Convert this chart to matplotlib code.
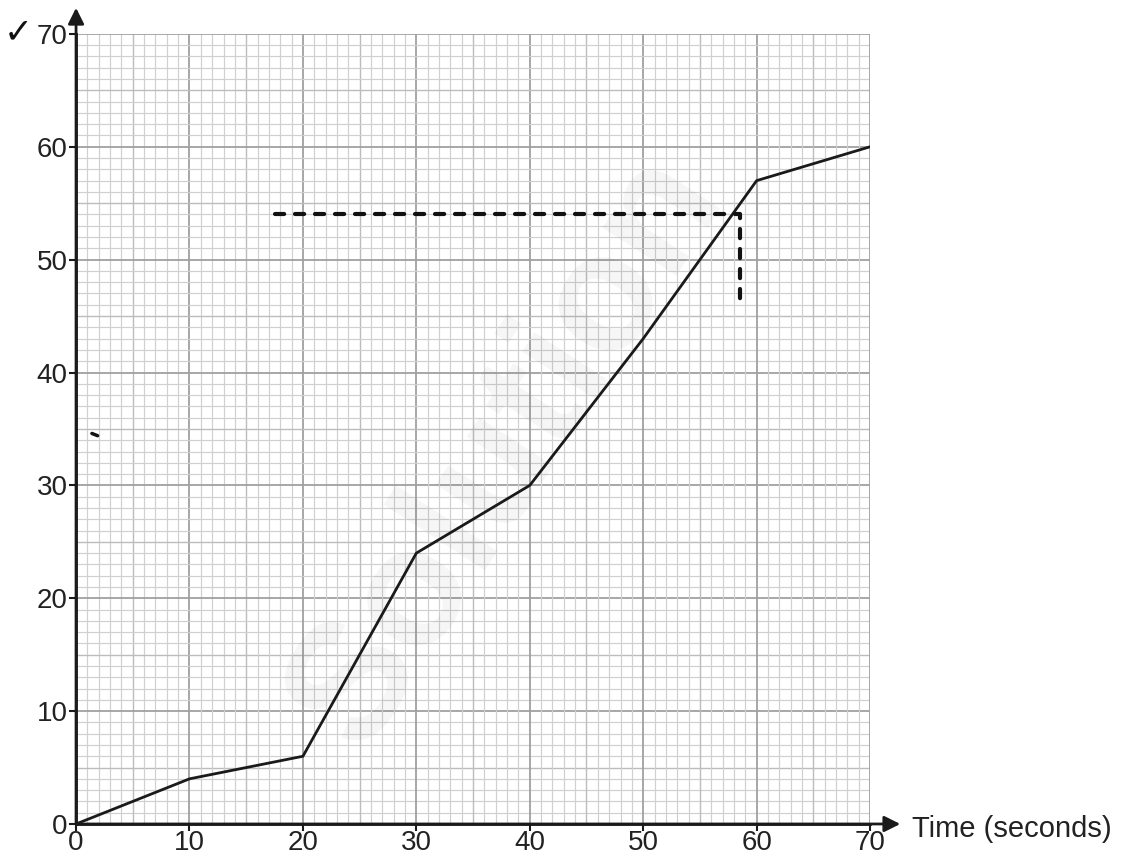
import numpy as np
from matplotlib import pyplot as plt

# Данные графика
time = [0, 10, 20, 30, 40, 50, 60, 70]
values = [0, 4, 6, 24, 30, 43, 57, 60]
ticks = [0, 10, 20, 30, 40, 50, 60, 70]

# Рукописная пунктирная линия (чтение значения)
readX = [17.5, 58.5, 58.5]
readY = [54, 54, 46.5]
# Случайная пометка карандашом
strayX = [1.4, 1.9]
strayY = [34.6, 34.4]

plt.rcParams['font.family'] = ['Liberation Sans', 'DejaVu Sans']

fig = plt.figure(figsize=(11.25, 8.56), dpi=100)
ax = fig.add_axes([0.0676, 0.0374, 0.7058, 0.923])
ax.set_xlim(0, 70)
ax.set_ylim(0, 70)

# Миллиметровка
for v in range(0, 71):
    if v % 10 == 0:
        c, lw = '#a0a0a0', 1.3
    elif v % 5 == 0:
        c, lw = '#bcbcbc', 1.0
    else:
        c, lw = '#d0d0d0', 0.85
    ax.axvline(v, color=c, lw=lw, zorder=0)
    ax.axhline(v, color=c, lw=lw, zorder=0)

ax.plot(time, values, color='#1a1a1a', lw=2, zorder=3)
ax.plot(readX, readY, color='#111111', lw=3, linestyle=(0, (2.2, 2.6)),
        dash_capstyle='round', zorder=4)
ax.plot(strayX, strayY, color='#111111', lw=2.5, solid_capstyle='round', zorder=4)

for s in ['top', 'right']:
    ax.spines[s].set_visible(False)
for s in ['left', 'bottom']:
    ax.spines[s].set_linewidth(2)
    ax.spines[s].set_color('#1a1a1a')

ax.set_xticks(ticks)
ax.set_yticks(ticks)
ax.tick_params(labelsize=20, length=5, width=1.5, color='#1a1a1a',
               labelcolor='#222222', pad=1)
ax.tick_params(axis='x', pad=-1)

# Стрелки осей
ax.annotate('', xy=(1.038, 0), xycoords='axes fraction', xytext=(0, 0),
            arrowprops=dict(arrowstyle='-|>', color='#1a1a1a', lw=2,
                            mutation_scale=24, shrinkA=0, shrinkB=0))
ax.annotate('', xy=(0, 1.033), xycoords='axes fraction', xytext=(0, 0),
            arrowprops=dict(arrowstyle='-|>', color='#1a1a1a', lw=2,
                            mutation_scale=24, shrinkA=0, shrinkB=0))
fig.text(0.811, 0.032, 'Time (seconds)', fontsize=21, color='#222222',
         va='center', ha='left')
fig.text(0.003, 0.962, '\u2713', fontsize=25, color='#111111',
         family=['DejaVu Sans'], va='center', ha='left')

# Водяной знак
ax.text(38, 33, 'Solution', fontsize=120, color='#000000', alpha=0.04,
        rotation=57, ha='center', va='center', fontweight='bold', zorder=1)

fig.savefig('out.png', dpi=100)
